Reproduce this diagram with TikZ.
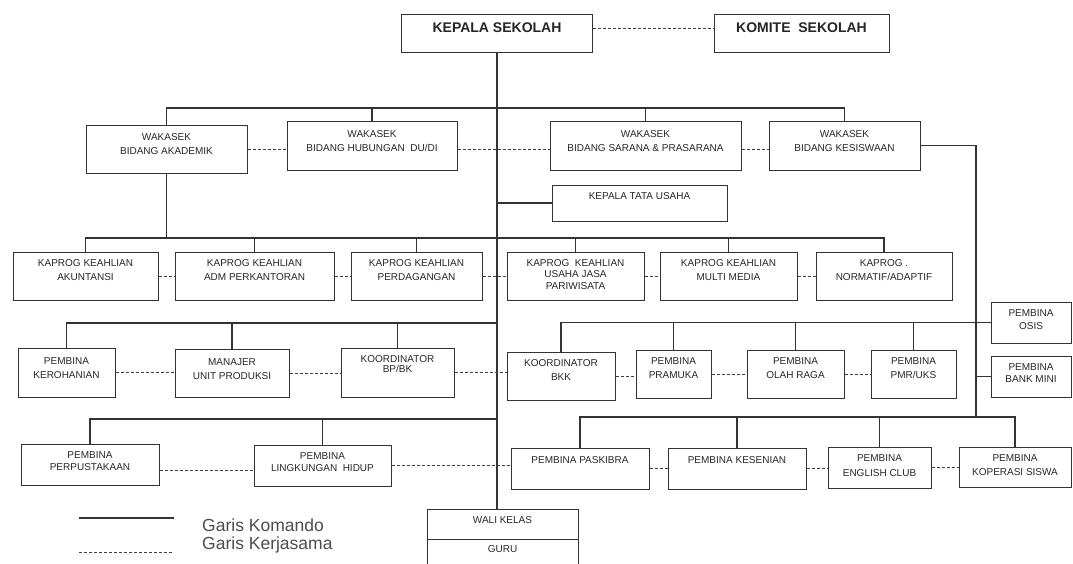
\documentclass[tikz,border=0pt]{standalone}
\usepackage{fontspec}
\setmainfont{Liberation Sans}
\usetikzlibrary{calc}
\tikzset{
  box/.style={draw=black!80, line width=1pt, align=center, inner sep=0pt, text=black!85, font=\fontsize{10}{14}\selectfont},
  big/.style={box, font=\fontsize{14}{16}\selectfont\bfseries},
  sz/.style 2 args={minimum width=#1pt, minimum height=#2pt},
  lift/.style={text depth=#1pt},
  cmd/.style={draw=black!80, line width=1.1pt},
  coop/.style={draw=black!75, line width=0.9pt, dash pattern=on 3pt off 2pt},
  legend/.style={inner sep=0pt, text=black!70, font=\fontsize{17.5}{20}\selectfont}
}
\begin{document}
\begin{tikzpicture}[x=1pt, y=-1pt]
\useasboundingbox (0,0) rectangle (1073,563);
\node[big, sz={191}{38}, lift=10] at (497,33)    (kepsek) {KEPALA SEKOLAH};
\node[big, sz={175}{38}, lift=10] at (801.5,33)  (komite) {KOMITE\ \ SEKOLAH};
\node[box, sz={161}{48}, lift=9]  at (166.5,149) (akad) {WAKASEK\\BIDANG AKADEMIK};
\node[box, sz={170}{49}, lift=8]  at (372,145.5) (hub)  {WAKASEK\\BIDANG HUBUNGAN\ \ DU/DI};
\node[box, sz={191}{49}, lift=8]  at (645.5,145.5) (sar) {WAKASEK\\BIDANG SARANA \& PRASARANA};
\node[box, sz={151}{49}, lift=8]  at (844.5,145.5) (kes) {WAKASEK\\BIDANG KESISWAAN};
\node[box, sz={175}{36}, lift=14] at (639.5,203) (ktu)  {KEPALA TATA USAHA};
\node[box, sz={145}{48}, lift=11] at (85.5,276)  (akun) {KAPROG KEAHLIAN\\AKUNTANSI};
\node[box, sz={159}{48}, lift=11] at (254.5,276) (adm)  {KAPROG KEAHLIAN\\ADM PERKANTORAN};
\node[box, sz={131}{48}, lift=11] at (416.5,276) (dag)  {KAPROG KEAHLIAN\\PERDAGANGAN};
\node[box, sz={137}{48}, lift=3, font=\fontsize{10}{11.5}\selectfont] at (575.5,276) (jasa) {KAPROG\ \ KEAHLIAN\\USAHA JASA\\PARIWISATA};
\node[box, sz={137}{48}, lift=11] at (728.5,276) (mm)   {KAPROG KEAHLIAN\\MULTI MEDIA};
\node[box, sz={136}{48}, lift=11] at (884,276)   (norm) {KAPROG .\\NORMATIF/ADAPTIF};
\node[box, sz={97}{49}, lift=8]   at (66.5,372.5) (kero) {PEMBINA\\KEROHANIAN};
\node[box, sz={114}{48}, lift=8]  at (232,373)   (man)  {MANAJER\\UNIT PRODUKSI};
\node[box, sz={113}{49}, lift=17, font=\fontsize{10}{10.5}\selectfont] at (397.5,372.5) (bpbk) {KOORDINATOR\\BP/BK};
\node[box, sz={108}{48}, lift=12] at (561,376)   (bkk)  {KOORDINATOR\\BKK};
\node[box, sz={75}{48}, lift=12]  at (673.5,374) (pram) {PEMBINA\\PRAMUKA};
\node[box, sz={97}{48}, lift=12]  at (795.5,374) (olah) {PEMBINA\\OLAH RAGA};
\node[box, sz={85}{48}, lift=12]  at (913.5,374) (pmr)  {PEMBINA\\PMR/UKS};
\node[box, sz={80}{41}, lift=6, font=\fontsize{10}{13}\selectfont] at (1031,322.5) (osis) {PEMBINA\\OSIS};
\node[box, sz={80}{41}, lift=7, font=\fontsize{10}{12}\selectfont] at (1031,376.5) (bank) {PEMBINA\\BANK MINI};
\node[box, sz={138}{41}, lift=7, font=\fontsize{10}{12}\selectfont] at (90,464.5) (perp) {PEMBINA\\PERPUSTAKAAN};
\node[box, sz={137}{41}, lift=7, font=\fontsize{10}{12}\selectfont] at (322.5,465.5) (ling) {PEMBINA\\LINGKUNGAN\ \ HIDUP};
\node[box, sz={138}{41}, lift=17] at (580,468.5) (pask) {PEMBINA PASKIBRA};
\node[box, sz={138}{41}, lift=17] at (737,468.5) (kesn) {PEMBINA KESENIAN};
\node[box, sz={103}{41}, lift=4, font=\fontsize{10}{15}\selectfont] at (879.5,467.5) (eng) {PEMBINA\\ENGLISH CLUB};
\node[box, sz={112}{40}, lift=4]  at (1015,467)  (kop)  {PEMBINA\\KOPERASI SISWA};
\node[box, sz={151}{30}, lift=8]  at (502.5,524) (wali) {WALI KELAS};
\node[box, sz={151}{30}, lift=10] at (502.5,554) (guru) {GURU};
\coordinate (t1) at (497,108);
\coordinate (t3) at (497,238);
\coordinate (t4) at (497,323);
\coordinate (t5) at (497,419);
\coordinate (k5) at (976,417);
\draw[cmd] (kepsek.south) -- (kepsek.south |- wali.north);
\draw[cmd] (akad.north) |- (t1) -| (kes.north);
\foreach \n in {hub,sar} \draw[cmd] (\n.north) -- (\n.north |- t1);
\draw[cmd] (ktu.west) -- (ktu.west -| t1);
\draw[cmd] (akad.south) -- (akad.south |- t3);
\draw[cmd] (akun.north) |- (t3) -| (norm.north);
\foreach \n in {adm,dag,jasa,mm} \draw[cmd] (\n.north) -- (\n.north |- t3);
\draw[cmd] (kero.north) |- (t4);
\foreach \n in {man,bpbk} \draw[cmd] (\n.north) -- (\n.north |- t4);
\draw[cmd] (kes.east) -| (k5);
\draw[cmd] (bkk.north) |- (osis.west);
\foreach \n in {pram,olah,pmr} \draw[cmd] (\n.north) -- (\n.north |- osis.west);
\draw[cmd] (bank.west) -- (bank.west -| k5);
\draw[cmd] (perp.north) |- (t5);
\draw[cmd] (ling.north) -- (ling.north |- t5);
\draw[cmd] (pask.north) |- (k5) -| (kop.north);
\foreach \n in {kesn,eng} \draw[cmd] (\n.north) -- (\n.north |- k5);
\draw[coop] ($(kepsek.east)+(0,-5)$) -- ($(komite.west)+(0,-5)$);
\draw[coop] (akad.east) -- (akad.east -| hub.west);
\foreach \a/\b in {hub/sar,sar/kes} \draw[coop] ($(\a.east)+(0,3.5)$) -- ($(\b.west)+(0,3.5)$);
\foreach \a/\b in {akun/adm,adm/dag,dag/jasa,jasa/mm,mm/norm,kero/man,man/bpbk,bpbk/bkk,bkk/pram,pram/olah,olah/pmr,ling/pask,pask/kesn,kesn/eng,eng/kop}
  \draw[coop] (\a.east) -- (\a.east -| \b.west);
\draw[coop] ($(perp.east)+(0,5.5)$) -- ($(perp.east -| ling.west)+(0,5.5)$);
\coordinate (lg1) at (79,518);
\coordinate (lg2) at (174,518);
\coordinate (lg3) at (79,552);
\coordinate (lg4) at (174,552);
\draw[cmd] (lg1) -- (lg2);
\draw[coop] (lg3) -- (lg4);
\node[legend, anchor=base west] at (202,531) (lkom) {Garis Komando};
\node[legend, anchor=base west] at (202,549) (lker) {Garis Kerjasama};
\end{tikzpicture}
\end{document}
